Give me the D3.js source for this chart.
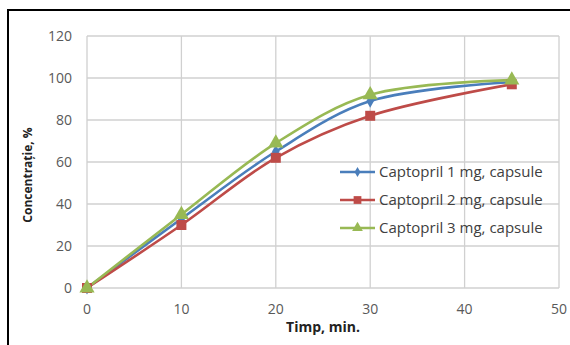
<!DOCTYPE html>
<html><head><meta charset="utf-8">
<script src="https://cdn.jsdelivr.net/npm/d3@7"></script>
<style>body{margin:0;background:#fff;} svg{display:block;}</style>
</head><body><svg id="c" width="570" height="345"></svg>
<script>
const times = [0, 10, 20, 30, 45];
const series1 = [0, 33, 65, 89, 98];
const series2 = [0, 30, 62, 82, 97];
const series3 = [0, 35, 69, 92, 99];
const seriesNames = ["Captopril 1 mg, capsule", "Captopril 2 mg, capsule", "Captopril 3 mg, capsule"];
const xTicks = [0, 10, 20, 30, 40, 50];
const yTicks = [0, 20, 40, 60, 80, 100, 120];

const colors = ["#4A7EBB", "#BE4B48", "#98B954"];
const symbols = [d3.symbolDiamond, d3.symbolSquare, d3.symbolTriangle];
const symSizes = [50, 100, 100];
const legSizes = [30, 60, 50];
const svg = d3.select("#c");
const font = "'Open Sans', sans-serif";

// frame
svg.append("rect").attr("x", 8).attr("y", 10).attr("width", 600).attr("height", 400)
  .attr("fill", "none").attr("stroke", "#000").attr("stroke-width", 2);

const x = d3.scaleLinear().domain([0, 50]).range([87, 559]);
const y = d3.scaleLinear().domain([0, 120]).range([288, 36]);

const grid = svg.append("g");
grid.selectAll("line.h").data(yTicks).join("line")
  .attr("x1", x(0)).attr("x2", x(50)).attr("y1", d => y(d)).attr("y2", d => y(d))
  .attr("stroke", "#d0d0d0").attr("stroke-width", 1.3);
grid.selectAll("line.v").data(xTicks).join("line")
  .attr("y1", y(0)).attr("y2", y(120)).attr("x1", d => x(d)).attr("x2", d => x(d))
  .attr("stroke", "#d0d0d0").attr("stroke-width", 1.3);

svg.selectAll("text.yt").data(yTicks).join("text")
  .attr("x", 72).attr("y", d => y(d)).attr("dy", "0.35em").attr("text-anchor", "end")
  .attr("font-family", font).attr("font-size", 14).attr("fill", "#595959").text(d => d);
svg.selectAll("text.xt").data(xTicks).join("text")
  .attr("x", d => x(d)).attr("y", 309).attr("dy", "0.35em").attr("text-anchor", "middle")
  .attr("font-family", font).attr("font-size", 14).attr("fill", "#595959").text(d => d);

svg.append("text").attr("x", 323).attr("y", 327).attr("dy", "0.35em").attr("text-anchor", "middle")
  .attr("font-family", font).attr("font-size", 14).attr("font-weight", "bold").attr("fill", "#222")
  .text("Timp, min.");
svg.append("text").attr("transform", "translate(28,175) rotate(-90)").attr("dy", "0.35em")
  .attr("text-anchor", "middle").attr("font-family", font).attr("font-size", 12)
  .attr("font-weight", "bold").attr("fill", "#222").text("Concentrație, %");

const all = [series1, series2, series3];
const line = d3.line().x((d, i) => x(times[i])).y(d => y(d)).curve(d3.curveCatmullRom.alpha(0.5));
all.forEach((s, k) => {
  svg.append("path").attr("d", line(s)).attr("fill", "none")
    .attr("stroke", colors[k]).attr("stroke-width", 2.6);
});
all.forEach((s, k) => {
  svg.selectAll(null).data(s).join("path")
    .attr("transform", (d, i) => `translate(${x(times[i])},${y(d)})`)
    .attr("d", d3.symbol().type(symbols[k]).size(symSizes[k]))
    .attr("fill", colors[k]);
});

// legend
const ly = [172, 200, 228];
seriesNames.forEach((n, k) => {
  const g = svg.append("g").attr("transform", `translate(340,${ly[k]})`);
  g.append("line").attr("x1", 0).attr("x2", 35).attr("stroke", colors[k]).attr("stroke-width", 2.6);
  g.append("path").attr("transform", "translate(17.5,0)")
    .attr("d", d3.symbol().type(symbols[k]).size(legSizes[k])).attr("fill", colors[k]);
  g.append("text").attr("x", 39).attr("dy", "0.35em").attr("font-family", font)
    .attr("font-size", 15).attr("fill", "#404040").text(n);
});
</script></body></html>
